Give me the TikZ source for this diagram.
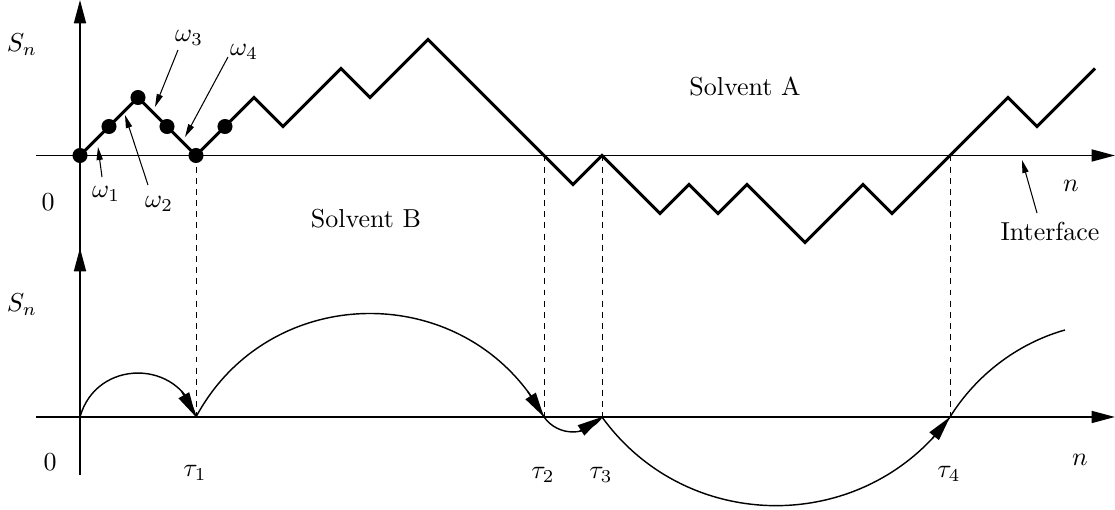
\documentclass[tikz,border=0pt]{standalone}
\usetikzlibrary{arrows.meta}
\begin{document}
\begin{tikzpicture}[x=0.385pt,y=0.385pt,
  axis/.style={line width=0.7pt,-{Triangle[length=9pt,width=4.6pt]}},
  walk/.style={line width=1.15pt},
  dot/.style={circle,fill,inner sep=0pt,minimum size=5.8pt},
  guide/.style={line width=0.3pt,dash pattern=on 2.3pt off 2pt},
  jump/.style={line width=0.55pt},
  jumptip/.style={line width=0.55pt,-{Triangle[length=9.6pt,width=4.6pt]}},
  note/.style={line width=0.4pt,-{Triangle[length=5pt,width=2.4pt]}},
  lab/.style={inner sep=1pt}]
\useasboundingbox (0,0) rectangle (1115,510);
% axes
\coordinate (tl) at (36,354.5); \coordinate (tr) at (1115,354.5);
\coordinate (tb) at (80,253);   \coordinate (tt) at (80,510);
\coordinate (bl) at (36,93);    \coordinate (br) at (1115,93);
\coordinate (bb) at (80,35);    \coordinate (bt) at (80,262);
\draw[axis] (tl) -- (tr);
\draw[axis] (tb) -- (tt);
\draw[axis] (bl) -- (br);
\draw[axis] (bb) -- (bt);
% walk coordinates
\foreach \h [count=\i from 0] in {0,1,2,1,0,1,2,1,2,3,2,3,4,3,2,1,0,-1,0,-1,-2,-1,-2,-1,-2,-3,-2,-1,-2,-1,0,1,2,1,2,3}
  \coordinate (w\i) at ({80+29*\i},{354.5+29*\h});
% renewal times on lower axis
\coordinate (t0) at (80,93);
\coordinate (t1) at (196,93);
\coordinate (t2) at (544,93);
\coordinate (t3) at (602,93);
\coordinate (t4) at (950,93);
\coordinate (e) at (1065,180);
% dashed guides
\draw[guide] (w4) -- (t1);
\draw[guide] (w16) -- (t2);
\draw[guide] (w18) -- (t3);
\draw[guide] (w30) -- (t4);
% walk
\draw[walk] (w0) \foreach \i in {1,...,35}{ -- (w\i)};
\foreach \i in {0,...,5} \node[dot] (d\i) at (w\i) {};
% jumps
\draw[jump] (t0) to[bend left=74.5, looseness=1.344] coordinate[pos=0.82] (a1) (t1);
\draw[jump] (t1) to[bend left=61.7, looseness=1.155] coordinate[pos=0.935] (a2) (t2);
\draw[jump] (t2) to[bend right=54.8, looseness=1.08] coordinate[pos=0.6] (a3) (t3);
\draw[jump] (t3) to[bend right=54.2, looseness=1.074] coordinate[pos=0.935] (a4) (t4);
\draw[jump] (t4) to[out=58,in=195.8,looseness=0.875] (e);
\draw[jumptip] (a1) -- (t1);
\draw[jumptip] (a2) -- (t2);
\draw[jumptip] (a3) -- (t3);
\draw[jumptip] (a4) -- (t4);
% labels
\node[lab] (sn1) at (22,465) {$S_n$};
\node[lab] (z1) at (48,308) {$0$};
\node[lab] (sn2) at (22,205) {$S_n$};
\node[lab] (z2) at (50,48) {$0$};
\node[lab] (n1) at (1071,324) {$n$};
\node[lab] (n2) at (1080,50) {$n$};
\node[lab] (sa) at (745,423) {Solvent A};
\node[lab] (sb) at (366,291) {Solvent B};
\node[lab] (int) at (1050,278) {Interface};
\node[lab] (ta1) at (195,37) {$\tau_1$};
\node[lab] (ta2) at (543,35) {$\tau_2$};
\node[lab] (ta3) at (601,35) {$\tau_3$};
\node[lab] (ta4) at (949,36) {$\tau_4$};
\node[lab] (o1) at (106,316) {$\omega_1$};
\node[lab] (o2) at (159,306) {$\omega_2$};
\node[lab] (o3) at (189,472) {$\omega_3$};
\node[lab] (o4) at (244,458) {$\omega_4$};
% annotation arrows
\coordinate (o1s) at (102,333); \coordinate (o1e) at (98,363);
\coordinate (o2s) at (148,325); \coordinate (o2e) at (125,395);
\coordinate (o3s) at (178,460); \coordinate (o3e) at (155,403);
\coordinate (o4s) at (228,453); \coordinate (o4e) at (185,373);
\coordinate (is) at (1037,297); \coordinate (ie) at (1022,350);
\draw[note] (o1s) -- (o1e);
\draw[note] (o2s) -- (o2e);
\draw[note] (o3s) -- (o3e);
\draw[note] (o4s) -- (o4e);
\draw[note] (is) -- (ie);
\end{tikzpicture}
\end{document}
